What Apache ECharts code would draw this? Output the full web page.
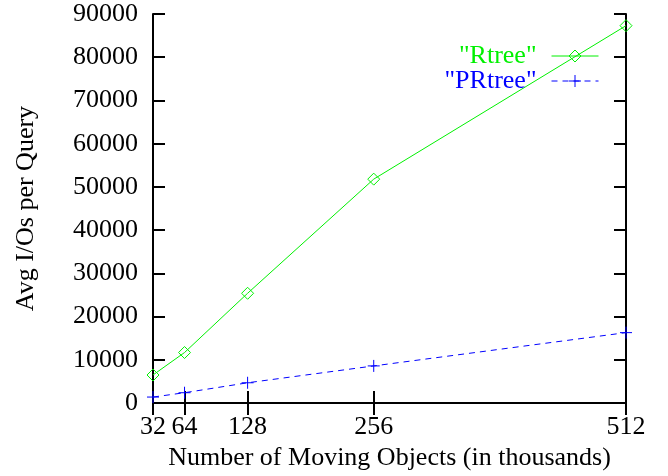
<!DOCTYPE html>
<html><head><meta charset="utf-8">
<script src="https://cdn.jsdelivr.net/npm/echarts@6/dist/echarts.min.js"></script>
<style>html,body{margin:0;padding:0;background:#fff}#c{width:668px;height:476px}</style>
</head><body><div id="c"></div>
<script>
var xTicks = [32, 64, 128, 256, 512];
var objects = [32, 64, 128, 256, 512];
var rtree = [6500, 11700, 25400, 51800, 87300];
var prtree = [1400, 2400, 4700, 8600, 16300];
var seriesNames = ['"Rtree"', '"PRtree"'];

var font = 'Liberation Serif';
var green = '#00f000', blue = '#0000ff';
var chart = echarts.init(document.getElementById('c'), null, {renderer: 'canvas'});
function pairs(ys) { return objects.map(function (x, i) { return [x, ys[i]]; }); }
var axisLine = {show: true, lineStyle: {color: '#000', width: 2}};
var tick = {show: true, inside: true, length: 12, lineStyle: {color: '#000', width: 2}};
var xBase = {
  type: 'value', min: 32, max: 512,
  axisLine: axisLine, splitLine: {show: false}
};
var yBase = {
  type: 'value', min: 0, max: 90000, interval: 10000,
  axisLine: axisLine, splitLine: {show: false}
};
function legendItem(name, color, dashed, top) {
  return {
    data: [{name: name,
            itemStyle: {color: 'rgba(0,0,0,0)', borderColor: color, borderWidth: 1},
            lineStyle: {color: color, width: 1, type: dashed ? [6, 5] : 'solid'}}],
    right: 64, top: top, itemWidth: 47, itemHeight: 15, itemGap: 0, align: 'right',
    textStyle: {fontFamily: font, fontSize: 26, color: color, padding: [0, 10, 0, 0]}
  };
}
chart.setOption({
  animation: false,
  grid: {left: 153, right: 42, top: 14, bottom: 70},
  legend: [
    legendItem(seriesNames[0], green, false, 38),
    legendItem(seriesNames[1], blue, true, 63)
  ],
  xAxis: [
    Object.assign({}, xBase, {
      position: 'bottom',
      name: 'Number of Moving Objects (in thousands)', nameLocation: 'middle', nameGap: 41,
      nameTextStyle: {fontFamily: font, fontSize: 26, color: '#000'},
      axisTick: Object.assign({}, tick, {customValues: xTicks}),
      axisLabel: {show: true, customValues: xTicks, margin: 11, fontFamily: font, fontSize: 26, color: '#000'}
    }),
    Object.assign({}, xBase, {
      position: 'top',
      axisTick: Object.assign({}, tick, {customValues: xTicks}),
      axisLabel: {show: false, customValues: xTicks}
    })
  ],
  yAxis: [
    Object.assign({}, yBase, {
      position: 'left',
      name: 'Avg I/Os per Query', nameLocation: 'middle', nameGap: 114,
      nameTextStyle: {fontFamily: font, fontSize: 26, color: '#000'},
      axisTick: tick,
      axisLabel: {show: true, margin: 15, fontFamily: font, fontSize: 26, color: '#000',
                  formatter: function (v) { return String(v); }}
    }),
    Object.assign({}, yBase, {
      position: 'right',
      axisTick: tick,
      axisLabel: {show: false}
    })
  ],
  series: [
    {
      name: seriesNames[0], type: 'line', data: pairs(rtree),
      symbol: 'diamond', symbolSize: 12, showAllSymbol: true,
      lineStyle: {color: green, width: 1},
      itemStyle: {color: 'rgba(0,0,0,0)', borderColor: green, borderWidth: 1}
    },
    {
      name: seriesNames[1], type: 'line', data: pairs(prtree),
      symbol: 'path://M0,5L10,5M5,0L5,10', symbolSize: 12, showAllSymbol: true,
      lineStyle: {color: blue, width: 1, type: [6, 5]},
      itemStyle: {color: 'rgba(0,0,0,0)', borderColor: blue, borderWidth: 1}
    }
  ]
});
</script></body></html>
